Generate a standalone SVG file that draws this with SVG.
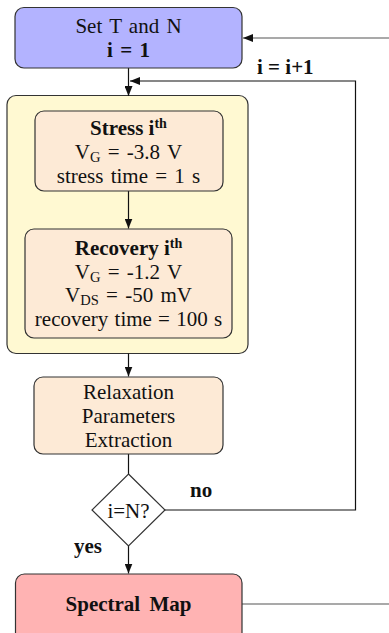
<svg xmlns="http://www.w3.org/2000/svg" width="389" height="633" viewBox="0 0 389 633">
<style>
text{font-family:"Liberation Serif","Times New Roman",serif;font-size:21px;fill:#111;text-anchor:middle}
.b{font-weight:bold}
.sup{font-size:14px;font-weight:bold}
.sub{font-size:14.5px}
.box{stroke:#333;stroke-width:1.2}
.ln{fill:none;stroke:#111;stroke-width:1.2}
.lg{fill:none;stroke:#555;stroke-width:1.2}
.lbl{text-anchor:start;font-weight:bold}
</style>
<defs>
<marker id="ah" viewBox="0 0 10 8" refX="10" refY="4" markerWidth="10" markerHeight="8" markerUnits="userSpaceOnUse" orient="auto">
<path d="M0,0 L10,4 L0,8 Z" fill="#111"/>
</marker>
</defs>
<g id="group-loop">
<rect class="box" x="7" y="95.5" width="241" height="258" rx="9" fill="#FFF9D2"/>
</g>
<g id="connectors">
<line class="lg" x1="389" y1="38" x2="243" y2="38" marker-end="url(#ah)"/>
<line class="ln" x1="128.5" y1="68" x2="128.5" y2="96" marker-end="url(#ah)"/>
<polyline class="ln" points="165,510 355.5,510 355.5,81 130,81" marker-end="url(#ah)"/>
<line class="ln" x1="128.5" y1="191" x2="128.5" y2="228.5" marker-end="url(#ah)"/>
<line class="ln" x1="128.5" y1="353.5" x2="128.5" y2="376.5" marker-end="url(#ah)"/>
<line class="ln" x1="128.5" y1="454" x2="128.5" y2="474"/>
<line class="ln" x1="128.5" y1="546" x2="128.5" y2="573.5" marker-end="url(#ah)"/>
<line class="lg" x1="242" y1="604" x2="389" y2="604"/>
<text class="lbl" x="257" y="74">i = i+1</text>
<text class="lbl" x="190" y="497">no</text>
<text class="lbl" x="74" y="553">yes</text>
</g>
<g id="set">
<rect class="box" x="15" y="7.5" width="227" height="60.5" rx="9" fill="#B3B3FF"/>
<text x="128.5" y="33" word-spacing="2">Set T and N</text>
<text class="b" x="128.5" y="57" word-spacing="2">i = 1</text>
</g>
<g id="stress">
<rect class="box" x="35" y="111" width="188" height="80" rx="9" fill="#FDEAD6"/>
<text x="128.5" y="135"><tspan class="b">Stress i</tspan><tspan class="sup" dy="-7">th</tspan></text>
<text x="128.5" y="159" word-spacing="2">V<tspan class="sub" dy="3">G</tspan><tspan dy="-3"> = -3.8 V</tspan></text>
<text x="128.5" y="183" word-spacing="2">stress time = 1 s</text>
</g>
<g id="recovery">
<rect class="box" x="25" y="229" width="207" height="109" rx="9" fill="#FDEAD6"/>
<text x="128.5" y="255"><tspan class="b">Recovery i</tspan><tspan class="sup" dy="-7">th</tspan></text>
<text x="128.5" y="279" word-spacing="2">V<tspan class="sub" dy="3">G</tspan><tspan dy="-3"> = -1.2 V</tspan></text>
<text x="128.5" y="302" word-spacing="2">V<tspan class="sub" dy="3">DS</tspan><tspan dy="-3"> = -50 mV</tspan></text>
<text x="128.5" y="326" word-spacing="1">recovery time = 100 s</text>
</g>
<g id="relax">
<rect class="box" x="34" y="377" width="189" height="77" rx="9" fill="#FDEAD6"/>
<text x="128.5" y="399">Relaxation</text>
<text x="128.5" y="423">Parameters</text>
<text x="128.5" y="447">Extraction</text>
</g>
<g id="decision">
<polygon class="box" points="128.5,474 165,510 128.5,546 92,510" fill="#fff" stroke="#111"/>
<text x="128.5" y="518" font-size="20">i=N?</text>
</g>
<g id="spectral">
<rect class="box" x="15.5" y="574" width="226.5" height="70" rx="9" fill="#FFB3B3"/>
<text class="b" x="128.5" y="611" word-spacing="4">Spectral Map</text>
</g>
</svg>
